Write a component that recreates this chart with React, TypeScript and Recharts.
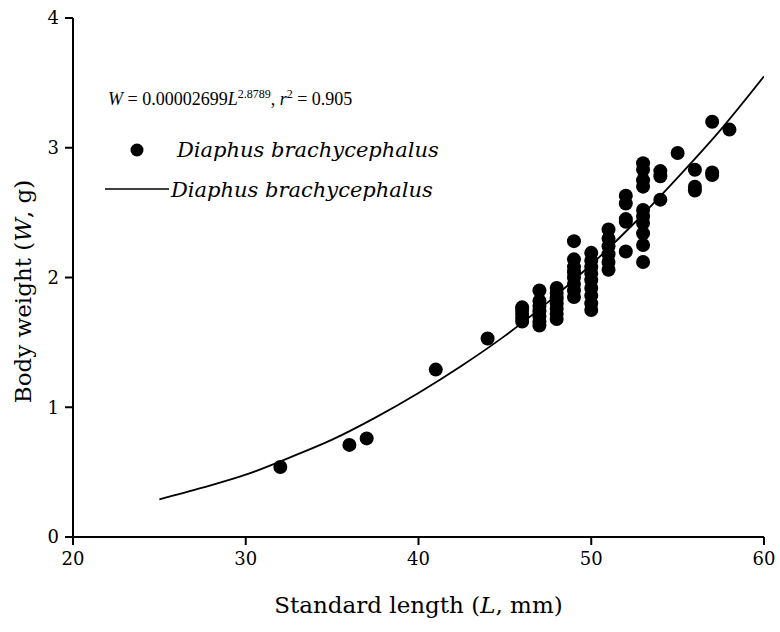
import {
  ComposedChart,
  Scatter,
  Line,
  XAxis,
  YAxis,
  Label,
} from "recharts";

// observed fish: standard length (mm) and body weight (g)
const obsLength = [
  32, 36, 37, 41, 44,
  46, 46, 46, 46, 46,
  47, 47, 47, 47, 47, 47, 47,
  48, 48, 48, 48, 48, 48, 48,
  49, 49, 49, 49, 49, 49, 49, 49,
  50, 50, 50, 50, 50, 50, 50, 50, 50,
  51, 51, 51, 51, 51, 51,
  52, 52, 52, 52, 52,
  53, 53, 53, 53, 53, 53, 53, 53, 53, 53,
  54, 54, 54,
  55,
  56, 56, 56,
  57, 57, 57,
  58,
];
const obsWeight = [
  0.54, 0.71, 0.76, 1.29, 1.53,
  1.66, 1.69, 1.72, 1.75, 1.77,
  1.63, 1.66, 1.7, 1.74, 1.78, 1.82, 1.9,
  1.68, 1.72, 1.76, 1.8, 1.84, 1.88, 1.92,
  1.85, 1.9, 1.95, 2.0, 2.04, 2.08, 2.14, 2.28,
  1.75, 1.8, 1.86, 1.92, 1.98, 2.03, 2.08, 2.13, 2.19,
  2.06, 2.12, 2.18, 2.24, 2.3, 2.37,
  2.2, 2.43, 2.45, 2.57, 2.63,
  2.12, 2.25, 2.34, 2.42, 2.47, 2.52, 2.7, 2.75, 2.83, 2.88,
  2.6, 2.78, 2.82,
  2.96,
  2.67, 2.7, 2.83,
  2.79, 2.81, 3.2,
  3.14,
];

// fitted curve
const fitLength = [25, 27.5, 30, 32.5, 35, 37.5, 40, 42.5, 45, 47.5, 50, 52.5, 55, 57.5, 60];
const fitWeight = [0.29, 0.38, 0.48, 0.61, 0.75, 0.92, 1.11, 1.32, 1.55, 1.81, 2.1, 2.42, 2.77, 3.14, 3.55];

const xTicks = [20, 30, 40, 50, 60];
const yTicks = [0, 1, 2, 3, 4];

const speciesName = "Diaphus brachycephalus";

const FONT = '"DejaVu Serif", serif';
const EQ_FONT = '"Liberation Serif", serif';

const points = obsLength.map((L, i) => ({ L, W: obsWeight[i] }));
const curve = fitLength.map((L, i) => ({ L, W: fitWeight[i] }));

const Dot = (props: any) => <circle cx={props.cx} cy={props.cy} r={7} fill="#000" />;

// legend + equation, laid over the plot area
function LegendBox() {
  return (
    <div style={{ position: "absolute", left: 0, top: 0, fontFamily: FONT, color: "#000", pointerEvents: "none" }}>
      <div style={{ position: "absolute", left: 108, top: 83, fontFamily: EQ_FONT, fontSize: 18, lineHeight: "22px", whiteSpace: "nowrap" }}>
        <i>W</i> = 0.00002699<i>L</i>
        <sup style={{ fontSize: 12 }}>2.8789</sup>, <i>r</i>
        <sup style={{ fontSize: 12 }}>2</sup> = 0.905
      </div>
      <div style={{ position: "absolute", left: 130, top: 136, display: "flex", alignItems: "center", whiteSpace: "nowrap" }}>
        <svg width={16} height={28}>
          <circle cx={7} cy={14} r={6.5} fill="#000" />
        </svg>
        <span style={{ marginLeft: 31, fontSize: 21, fontStyle: "italic", lineHeight: "28px" }}>{speciesName}</span>
      </div>
      <div style={{ position: "absolute", left: 105, top: 176, display: "flex", alignItems: "center", whiteSpace: "nowrap" }}>
        <svg width={64} height={28}>
          <line x1={0} y1={13} x2={64} y2={13} stroke="#000" strokeWidth={1.6} />
        </svg>
        <span style={{ marginLeft: 2, fontSize: 21, fontStyle: "italic", lineHeight: "28px" }}>{speciesName}</span>
      </div>
    </div>
  );
}

export default function App() {
  return (
    <div style={{ position: "absolute", left: 0, top: 0, width: 780, height: 632, background: "#fff" }}>
      <ComposedChart width={780} height={632} margin={{ top: 18, right: 16, bottom: 15, left: 13 }}>
        <XAxis
          type="number"
          dataKey="L"
          domain={[20, 60]}
          ticks={xTicks}
          allowDataOverflow
          height={80}
          stroke="#000"
          strokeWidth={2}
          tickSize={8}
          tickMargin={7}
          tick={{ fontSize: 18, fill: "#000", fontFamily: FONT }}
        >
          <Label
            value="Standard length (L, mm)"
            content={({ viewBox }: any) => (
              <text
                x={viewBox.x + viewBox.width / 2}
                y={viewBox.y + viewBox.height - 4}
                textAnchor="middle"
                fontSize={23}
                fontFamily={FONT}
                fill="#000"
              >
                Standard length (<tspan fontStyle="italic">L</tspan>, mm)
              </text>
            )}
          />
        </XAxis>
        <YAxis
          type="number"
          domain={[0, 4]}
          ticks={yTicks}
          width={60}
          stroke="#000"
          strokeWidth={2}
          tickSize={8}
          tickMargin={6}
          tick={{ fontSize: 18, fill: "#000", fontFamily: FONT }}
        >
          <Label
            value="Body weight (W, g)"
            content={({ viewBox }: any) => {
              const cx = viewBox.x + 10;
              const cy = viewBox.y + viewBox.height / 2 + 14;
              return (
                <text
                  x={cx}
                  y={cy}
                  transform={`rotate(-90 ${cx} ${cy})`}
                  textAnchor="middle"
                  dominantBaseline="central"
                  fontSize={23}
                  fontFamily={FONT}
                  fill="#000"
                >
                  Body weight (<tspan fontStyle="italic">W</tspan>, g)
                </text>
              );
            }}
          />
        </YAxis>
        <Line
          data={curve}
          dataKey="W"
          type="monotone"
          stroke="#000"
          strokeWidth={1.8}
          dot={false}
          activeDot={false}
          isAnimationActive={false}
        />
        <Scatter data={points} dataKey="W" fill="#000" shape={Dot} isAnimationActive={false} />
      </ComposedChart>
      <LegendBox />
    </div>
  );
}
